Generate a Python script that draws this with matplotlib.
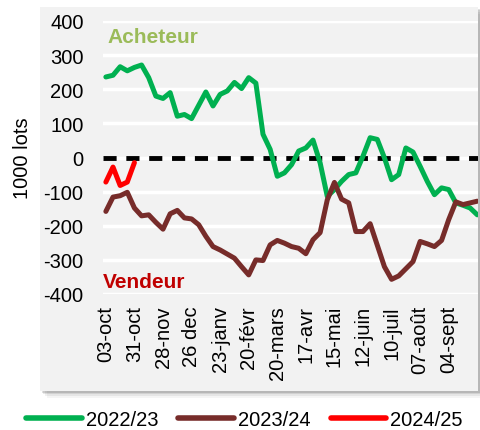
import matplotlib
matplotlib.use("Agg")
import matplotlib.pyplot as plt
from matplotlib.patches import Rectangle
from matplotlib.lines import Line2D

plt.rcParams['font.family'] = ['Liberation Sans', 'DejaVu Sans']

# ---------------- data ----------------
tick_labels = ["03-oct", "31-oct", "28-nov", "26 dec", "23-janv", "20-févr", "20-mars",
               "17-avr", "15-mai", "12-juin", "10-juil", "07-août", "04-sept"]
y_ticks = [-400, -300, -200, -100, 0, 100, 200, 300, 400]
y_tick_labels = ["-400", "-300", "-200", "-100", "0", "100", "200", "300", "400"]

s2022 = [236, 241, 266, 254, 264, 271, 234, 180, 173, 190,
         121, 126, 114, 153, 192, 151, 185, 195, 220, 202,
         234, 218, 68, 24, -55, -45, -21, 19, 28, 51,
         -16, -114, -94, -70, -50, -45, 4, 58, 53, -1,
         -65, -50, 28, 16, -26, -70, -109, -89, -94, -133,
         -140, -148, -168]
s2023 = [-158, -116, -112, -102, -148, -171, -168, -190, -210, -165,
         -155, -177, -180, -197, -231, -261, -271, -283, -295, -320,
         -344, -300, -302, -256, -243, -251, -261, -266, -282, -241,
         -220, -124, -73, -122, -133, -217, -217, -194, -257, -320,
         -357, -347, -326, -305, -246, -253, -261, -243, -182, -130,
         -138, -133, -128]
s2024 = [-72, -28, -82, -72, -15]
series_names = ["2022/23", "2023/24", "2024/25"]
colors = ["#00b050", "#772c2a", "#ff0000"]

# ---------------- figure ----------------
W, H = 481, 431
fig = plt.figure(figsize=(W / 100, H / 100), dpi=100)

def fx(px):
    return px / W

def fy(py):
    return 1 - py / H

# chart-area background with soft shadow
x0, x1, y0, y1 = 40, 478, 8, 392
for off, a in [(7, 0.04), (5, 0.06), (3, 0.09), (1.5, 0.12)]:
    fig.patches.append(Rectangle((fx(x0 + off), fy(y1 + off)), (x1 - x0) / W, (y1 - y0) / H,
                                 transform=fig.transFigure, facecolor='black', alpha=a,
                                 lw=0, zorder=-3))
fig.patches.append(Rectangle((fx(x0), fy(y1)), (x1 - x0) / W, (y1 - y0) / H,
                             transform=fig.transFigure, facecolor='#f2f2f2', lw=0, zorder=-2))

ax = fig.add_axes([fx(103), fy(295), (478 - 103) / W, (295 - 22) / H])
ax.patch.set_alpha(0)
for sp in ax.spines.values():
    sp.set_visible(False)

ax.set_ylim(-400, 400)
ax.set_xlim(-0.4, 52.1)
ax.set_yticks(y_ticks)
ax.set_yticklabels(y_tick_labels)
ax.set_xticks(list(range(0, 4 * len(tick_labels), 4)))
ax.set_xticklabels(tick_labels, rotation=90)
ax.tick_params(axis='both', length=0, labelsize=14.5, colors='black')
ax.tick_params(axis='y', pad=14)
ax.tick_params(axis='x', pad=8)
ax.yaxis.grid(True, color='white', lw=2.5)
ax.set_axisbelow(True)

ax.axhline(0, color='black', lw=3.5, dashes=(2.7, 2.0), zorder=2)

for vals, c in zip([s2022, s2023, s2024], colors):
    ax.plot(range(len(vals)), vals, color=c, lw=3.6, solid_joinstyle='round',
            solid_capstyle='round', zorder=3)

fig.text(fx(107), fy(43), "Acheteur", color="#9bbb59", fontsize=15, fontweight='bold',
         ha='left', va='baseline')
fig.text(fx(103), fy(288), "Vendeur", color="#c00000", fontsize=15, fontweight='bold',
         ha='left', va='baseline')
fig.text(fx(23), fy(158), "1000 lots", rotation=90, fontsize=14.5, ha='center', va='center')

handles = [Line2D([], [], color=c, lw=4, solid_capstyle='round') for c in colors]
fig.legend(handles, series_names, loc='center', bbox_to_anchor=(0.508, fy(421)), ncol=3,
           frameon=False, handlelength=2.75, handletextpad=0.2, columnspacing=1.0,
           fontsize=14.5, borderaxespad=0, borderpad=0)

fig.savefig("out.png", dpi=100)
